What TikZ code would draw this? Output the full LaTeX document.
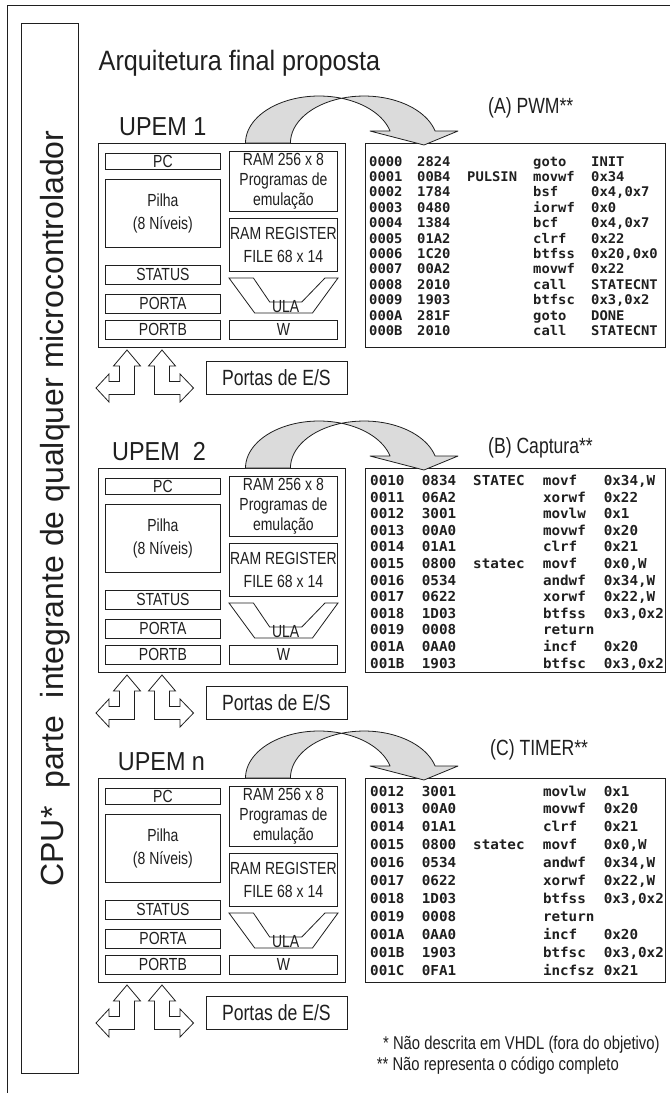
\documentclass[tikz,border=0pt]{standalone}
\usepackage{fontspec}
\setmainfont{Liberation Sans}
\newfontfamily\narrowA{Liberation Sans}[FakeStretch=0.8]
\newfontfamily\narrowB{Liberation Sans}[FakeStretch=0.9]
\newfontfamily\codefont{DejaVu Sans Mono}[FakeStretch=1.04]
\definecolor{arrowgray}{gray}{0.86}
\definecolor{ink}{gray}{0.12}
\newcommand\fsz[2]{\fontsize{#1}{#2}\selectfont}
\tikzset{
  x=1pt, y=-1pt,
  ln/.style={draw=ink, line width=0.8pt},
  bigbox/.style={ln, anchor=north west, inner sep=0pt, minimum width=247pt, minimum height=204pt},
  reg/.style={ln, anchor=north west, inner sep=0pt, font=\narrowA\fsz{17.5}{19.7}, align=center, text=ink},
  lbl/.style={anchor=base west, inner sep=0pt, font=\narrowB\fsz{26}{30}, text=ink},
  ttl/.style={anchor=base west, inner sep=0pt, font=\narrowA\fsz{22}{26}, text=ink},
  codebox/.style={ln, anchor=north west, inner sep=0pt, minimum width=300pt, minimum height=204pt},
  codeA/.style={anchor=base west, inner sep=0pt, font=\codefont\bfseries\fsz{13.3}{15}, text=ink},
  codeBC/.style={anchor=base west, inner sep=0pt, font=\codefont\bfseries\fsz{13.7}{15}, text=ink},
  bigarrow/.style={ln, fill=arrowgray, line join=round},
  ioarrow/.style={ln, fill=white, line join=miter},
  porta/.style={ln, anchor=north west, inner sep=0pt, minimum width=141pt, minimum height=33pt, font=\narrowA\fsz{22}{26}, text=ink},
  note/.style={anchor=base west, inner sep=0pt, font=\narrowA\fsz{18.5}{21}, text=ink},
}
\newcommand\upemblock[4]{% #1 id, #2 T, #3 label, #4 label x
  \node[bigbox] (box#1) at (97.5,#2) {};
  \node[lbl] (lbl#1) at (#4,{#2-8}) {#3};
  \node[reg, minimum width=115pt, minimum height=16pt] (pc#1) at (105,{#2+10}) {PC};
  \node[reg, minimum width=115pt, minimum height=68pt, font=\narrowA\fsz{17.5}{23.3}] (pilha#1) at (105,{#2+36}) {Pilha\\(8 Níveis)};
  \node[reg, minimum width=115pt, minimum height=19pt] (status#1) at (105,{#2+122}) {STATUS};
  \node[reg, minimum width=115pt, minimum height=19pt] (porta#1) at (105,{#2+151}) {PORTA};
  \node[reg, minimum width=115pt, minimum height=19pt] (portb#1) at (105,{#2+177}) {PORTB};
  \node[reg, minimum width=108pt, minimum height=60pt] (ram#1) at (229,{#2+8}) {RAM 256 x 8\\Programas de\\emulação};
  \node[reg, minimum width=108pt, minimum height=53pt, font=\narrowA\fsz{17.5}{23.3}] (rreg#1) at (229,{#2+75}) {RAM REGISTER\\FILE 68 x 14};
  \node[reg, minimum width=108pt, minimum height=19pt] (w#1) at (229,{#2+177}) {W};
  \draw[ln, line join=miter] (229,{#2+135}) -- (253.4,{#2+135}) -- (269.7,{#2+159}) -- (301.8,{#2+159}) -- (325,{#2+135}) -- (338,{#2+135}) -- (312.5,{#2+170}) -- (254.7,{#2+170}) -- cycle;
  \node[anchor=base, inner sep=0pt, font=\narrowA\fsz{17.5}{19}, text=ink] (ula#1) at (285.7,{#2+169.3}) {ULA};
  % I/O arrows (box bottom = T+204)
  \draw[ioarrow] (127,{#2+207}) -- (140.5,{#2+223}) -- (134.5,{#2+223}) -- (134.5,{#2+251.5}) -- (109,{#2+251.5}) -- (109,{#2+259}) -- (96,{#2+245}) -- (109,{#2+231}) -- (109,{#2+238.5}) -- (119.5,{#2+238.5}) -- (119.5,{#2+223}) -- (113.5,{#2+223}) -- cycle;
  \draw[ioarrow] (162,{#2+207}) -- (175.5,{#2+223}) -- (169.5,{#2+223}) -- (169.5,{#2+238.5}) -- (180,{#2+238.5}) -- (180,{#2+231}) -- (193.5,{#2+245}) -- (180,{#2+259}) -- (180,{#2+251.5}) -- (154.5,{#2+251.5}) -- (154.5,{#2+223}) -- (148.5,{#2+223}) -- cycle;
  \node[porta] (es#1) at (205.5,{#2+218}) {Portas de E/S};
}
\newcommand\curvarrow[1]{%
  \filldraw[bigarrow] (245.5,#1) arc[start angle=180,end angle=287.8,x radius=73.5,y radius=47] arc[start angle=252.2,end angle=180,x radius=73.5,y radius=47] -- cycle;
  \filldraw[bigarrow] (341.47,{#1-44.75}) arc[start angle=287.8,end angle=345.2,x radius=73.5,y radius=47] -- (370,{#1-12}) -- (424,{#1+2}) -- (458,{#1-12}) -- (435.1,{#1-12}) arc[start angle=345.2,end angle=252.2,x radius=73.5,y radius=47] -- cycle;
}
\begin{document}
\begin{tikzpicture}
\useasboundingbox (0,0) rectangle (670,1093);
\fill[white] (0,0) rectangle (670,1093);
% frame
\draw[ln] (7,1093) -- (7,5) -- (670,5);
\node[ln, anchor=north west, inner sep=0pt, minimum width=57pt, minimum height=1050pt] (cpubox) at (20.5,22.5) {};
\node[rotate=90, anchor=base west, inner sep=0pt, font=\fsz{32}{36}, text=ink] (cpu) at (63,886.7) {CPU*\ \ parte\ \ integrante de qualquer microcontrolador};
\node[anchor=base west, inner sep=0pt, font=\narrowB\fsz{28}{32}, text=ink] (title) at (98.5,70) {Arquitetura final proposta};
% blocks
\upemblock{1}{143}{UPEM 1}{119}
\upemblock{2}{468}{UPEM\ \ 2}{112}
\upemblock{3}{778}{UPEM n}{117.7}
% code boxes
\node[codebox] (codeA) at (365,143) {};
\node[codebox] (codeB) at (365,468) {};
\node[codebox] (codeC) at (365,778) {};
\node[ttl] (tA) at (488,113) {(A) PWM**};
\node[ttl] (tB) at (488,453) {(B) Captura**};
\node[ttl] (tC) at (490,755) {(C) TIMER**};
\foreach \a/\b/\c/\d/\e [count=\k] in {0000/2824/{}/goto/INIT, 0001/00B4/PULSIN/movwf/0x34, 0002/1784/{}/bsf/{0x4,0x7}, 0003/0480/{}/iorwf/0x0, 0004/1384/{}/bcf/{0x4,0x7}, 0005/01A2/{}/clrf/0x22, 0006/1C20/{}/btfss/{0x20,0x0}, 0007/00A2/{}/movwf/0x22, 0008/2010/{}/call/STATECNT, 0009/1903/{}/btfsc/{0x3,0x2}, 000A/281F/{}/goto/DONE, 000B/2010/{}/call/STATECNT}
  {\node[codeA] (rowA\k) at (369,{143+23+(\k-1)*15.4}) {\makebox[48pt][l]{\a}\makebox[50pt][l]{\b}\makebox[66pt][l]{\c}\makebox[58pt][l]{\d}\e};}
\foreach \a/\b/\c/\d/\e [count=\k] in {0010/0834/STATEC/movf/{0x34,W}, 0011/06A2/{}/xorwf/0x22, 0012/3001/{}/movlw/0x1, 0013/00A0/{}/movwf/0x20, 0014/01A1/{}/clrf/0x21, 0015/0800/statec/movf/{0x0,W}, 0016/0534/{}/andwf/{0x34,W}, 0017/0622/{}/xorwf/{0x22,W}, 0018/1D03/{}/btfss/{0x3,0x2}, 0019/0008/{}/return/{}, 001A/0AA0/{}/incf/0x20, 001B/1903/{}/btfsc/{0x3,0x2}}
  {\node[codeBC] (rowB\k) at (370,{468+17.5+(\k-1)*16.6}) {\makebox[51.7pt][l]{\a}\makebox[51.3pt][l]{\b}\makebox[69.8pt][l]{\c}\makebox[60.8pt][l]{\d}\e};}
\foreach \a/\b/\c/\d/\e [count=\k] in {0012/3001/{}/movlw/0x1, 0013/00A0/{}/movwf/0x20, 0014/01A1/{}/clrf/0x21, 0015/0800/statec/movf/{0x0,W}, 0016/0534/{}/andwf/{0x34,W}, 0017/0622/{}/xorwf/{0x22,W}, 0018/1D03/{}/btfss/{0x3,0x2}, 0019/0008/{}/return/{}, 001A/0AA0/{}/incf/0x20, 001B/1903/{}/btfsc/{0x3,0x2}, 001C/0FA1/{}/incfsz/0x21}
  {\node[codeBC] (rowC\k) at (370,{778+18+(\k-1)*17.9}) {\makebox[51.7pt][l]{\a}\makebox[51.3pt][l]{\b}\makebox[69.8pt][l]{\c}\makebox[60.8pt][l]{\d}\e};}
% curved arrows
\curvarrow{143}
\curvarrow{468}
\curvarrow{778}
% notes
\node[note] (n1) at (383,1049.5) {* Não descrita em VHDL (fora do objetivo)};
\node[note] (n2) at (376.7,1070.5) {** Não representa o código completo};
\end{tikzpicture}
\end{document}
